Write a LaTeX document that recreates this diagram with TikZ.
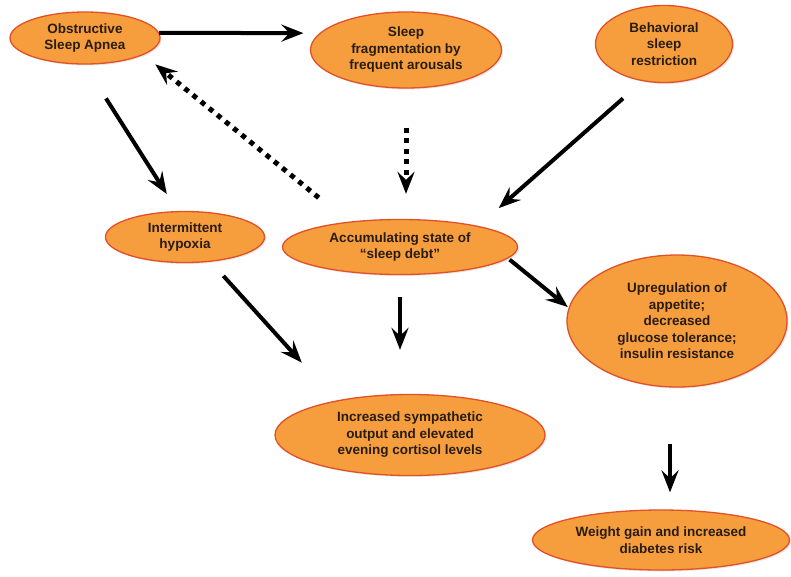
\documentclass[tikz,border=0pt]{standalone}
\usepackage{fontspec}
\setmainfont{Liberation Sans}
\usetikzlibrary{shapes.geometric, arrows.meta, shadows}
\definecolor{ovalfill}{RGB}{246,158,62}
\definecolor{ovalrim}{RGB}{226,80,38}
\definecolor{ovaltext}{RGB}{40,28,16}
\tikzstyle{factor} = [ellipse, draw=ovalrim, line width=1.3pt, fill=ovalfill, text=ovaltext, align=center, inner sep=0pt, font=\fontsize{13.5}{16.5}\selectfont\bfseries, drop shadow={opacity=0.2, shadow xshift=1.5pt, shadow yshift=-1.5pt}]
\tikzstyle{causal_link} = [line width=4pt, black, -{Stealth[length=22pt, width=17pt, inset=8pt]}]
\tikzstyle{feedback_link} = [causal_link, line width=5pt, dash pattern=on 5pt off 5.5pt]

\begin{document}
\begin{tikzpicture}[x=1pt, y=-1pt]

    \useasboundingbox (0,0) rectangle (791,576);

    \node (osa) [factor, minimum width=150pt, minimum height=52pt] at (85,38) {Obstructive\\Sleep Apnea};
    \node (frag) [factor, minimum width=191pt, minimum height=76pt] at (406,50) {Sleep\\fragmentation by\\frequent arousals};
    \node (restrict) [factor, minimum width=137pt, minimum height=77pt] at (664,44) {Behavioral\\sleep\\restriction};
    \node (hypoxia) [factor, minimum width=159pt, minimum height=51pt] at (185,237) {Intermittent\\hypoxia};
    \node (debt) [factor, minimum width=235pt, minimum height=55pt] at (400,247) {Accumulating state of\\``sleep debt''};
    \node (appetite) [factor, minimum width=220pt, minimum height=132pt] at (677,321) {Upregulation of\\appetite;\\decreased\\glucose tolerance;\\insulin resistance};
    \node (cortisol) [factor, minimum width=270pt, minimum height=81pt] at (410,435) {Increased sympathetic\\output and elevated\\evening cortisol levels};
    \node (diabetes) [factor, minimum width=257pt, minimum height=60pt] at (661,540) {Weight gain and increased\\diabetes risk};

    \draw [causal_link, shorten >=16pt] (osa.4) -- (frag.169);
    \draw [causal_link, shorten <=40pt, shorten >=20pt] (osa.-91) -- (hypoxia.106);
    \draw [causal_link, shorten <=26pt, shorten >=27pt] (restrict.-120) -- (debt.15);
    \draw [causal_link, shorten <=19pt, shorten >=51pt] (hypoxia.-44) -- (cortisol.155);
    \draw [causal_link, shorten <=22pt, shorten >=44pt] (debt.south) -- (debt.south |- cortisol.north);
    \draw [causal_link, shorten <=2pt, shorten >=1pt] (debt.-6) -- (appetite.173);
    \draw [causal_link, shorten <=56pt, shorten >=17pt] (appetite.-96) -- (appetite.-96 |- diabetes.north);

    % dotted feedback arrows
    \draw [feedback_link, shorten <=38pt, shorten >=15pt] (debt.154) -- (osa.-16);
    \draw [feedback_link, shorten <=39pt, shorten >=25pt] (frag.south) -- (frag.south |- debt.north);

\end{tikzpicture}
\end{document}
